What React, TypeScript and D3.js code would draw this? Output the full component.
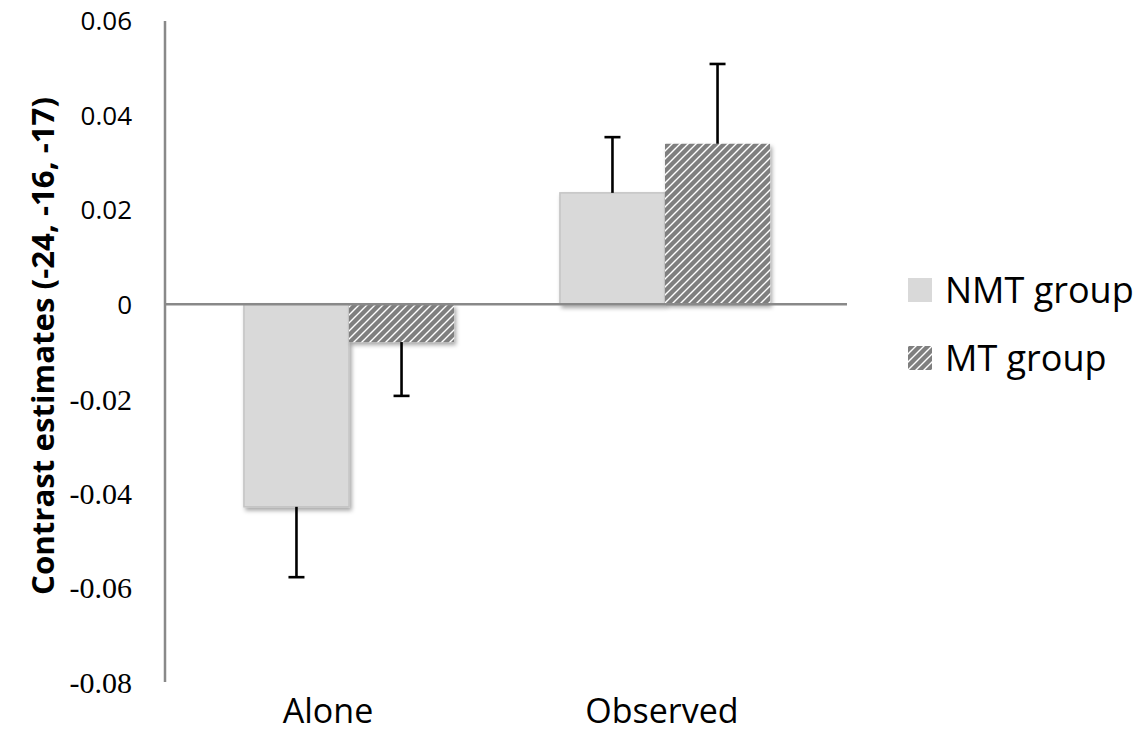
import React from "react";
import * as d3 from "d3";

const categories = ["Alone", "Observed"];
const seriesNames = ["NMT group", "MT group"];
const nmtValues = [-0.0429, 0.0236];
const mtValues = [-0.008, 0.034];
const nmtErrors = [0.0149, 0.0118];
const mtErrors = [0.0114, 0.0169];
const yTicks = [0.06, 0.04, 0.02, 0, -0.02, -0.04, -0.06, -0.08];

const W = 1147;
const H = 733;

export default function App() {
  const y = d3.scaleLinear().domain([-0.08, 0.06]).range([682, 21]);
  const x0 = d3.scaleBand<string>().domain(categories).range([191, 823]).padding(0);
  const groupW = x0.bandwidth() * 0.665;
  const x1 = d3.scaleBand<string>().domain(seriesNames).range([0, groupW]).padding(0);
  const labelX = d3.scalePoint<string>().domain(categories).range([328, 662]);

  const series = [
    { name: seriesNames[0], values: nmtValues, errors: nmtErrors },
    { name: seriesNames[1], values: mtValues, errors: mtErrors },
  ];

  const fmt = (v: number) => (v === 0 ? "0" : d3.format(".2f")(v).replace("\u2212", "-"));
  const fillFor = (i: number) => (i === 0 ? "#d9d9d9" : "url(#hatch)");
  const axisX = 165;
  const y0 = y(0);
  const serif = "'Liberation Serif', 'Times New Roman', 'DejaVu Serif', serif";
  const sans = "'Open Sans', 'Noto Sans', sans-serif";

  return (
    <svg width={W} height={H} style={{ display: "block", position: "absolute", left: 0, top: 0 }}>
      <defs>
        <pattern id="hatch" patternUnits="userSpaceOnUse" width="8" height="8">
          <rect width="8" height="8" fill="#7f7f7f" />
          <path d="M-2,2 l4,-4 M0,8 l8,-8 M6,10 l4,-4" stroke="#ffffff" strokeWidth="1.4" />
        </pattern>
        <filter id="shadow" x="-10%" y="-10%" width="130%" height="130%">
          <feDropShadow dx="2" dy="3" stdDeviation="2" floodColor="#000" floodOpacity="0.35" />
        </filter>
      </defs>
      <rect width={W} height={H} fill="#fff" />

      {series.map((s, si) =>
        categories.map((c, ci) => {
          const v = s.values[ci];
          const bx = (x0(c) as number) + (x0.bandwidth() - groupW) / 2 + (x1(s.name) as number);
          const top = Math.min(y(v), y0);
          const h = Math.abs(y(v) - y0);
          return (
            <rect
              key={s.name + c}
              x={bx}
              y={top}
              width={x1.bandwidth()}
              height={h}
              fill={fillFor(si)}
              stroke={si === 0 ? "#c4c4c4" : "none"}
              strokeWidth={1.5}
              filter="url(#shadow)"
            />
          );
        })
      )}

      <line x1={axisX} x2={847} y1={y0} y2={y0} stroke="#898989" strokeWidth={2.5} />
      <line x1={axisX} x2={axisX} y1={y(0.06)} y2={y(-0.08)} stroke="#898989" strokeWidth={2.5} />

      {series.map((s, si) =>
        categories.map((c, ci) => {
          const v = s.values[ci];
          const e = s.errors[ci];
          const bx = (x0(c) as number) + (x0.bandwidth() - groupW) / 2 + (x1(s.name) as number);
          const cx = bx + x1.bandwidth() / 2;
          const end = v < 0 ? v - e : v + e;
          return (
            <g key={"e" + s.name + c} stroke="#000" strokeWidth={2.6}>
              <line x1={cx} x2={cx} y1={y(v)} y2={y(end)} />
              <line x1={cx - 8} x2={cx + 8} y1={y(end)} y2={y(end)} />
            </g>
          );
        })
      )}

      {yTicks.map((t) => (
        <text
          key={t}
          x={132}
          y={y(t)}
          dy="0.36em"
          textAnchor="end"
          style={{ fontFamily: t < 0 ? serif : sans, fontSize: t < 0 ? 30 : 26 }}
          fill="#000"
        >
          {fmt(t)}
        </text>
      ))}

      {categories.map((c) => (
        <text
          key={c}
          x={labelX(c)}
          y={723}
          textAnchor="middle"
          style={{ fontFamily: sans, fontSize: 34 }}
          fill="#000"
        >
          {c}
        </text>
      ))}

      <text
        transform="translate(54,346) rotate(-90)"
        textAnchor="middle"
        style={{ fontFamily: sans, fontWeight: "bold", fontSize: 30 }}
        textLength={498}
        lengthAdjust="spacingAndGlyphs"
        fill="#000"
      >
        Contrast estimates (-24, -16, -17)
      </text>

      {seriesNames.map((n, i) => (
        <g key={n} transform={`translate(908,${278 + i * 68})`}>
          <rect width={24} height={24} fill={fillFor(i)} />
          <text x={37} y={25} style={{ fontFamily: sans, fontSize: 36 }} fill="#000">
            {n}
          </text>
        </g>
      ))}
    </svg>
  );
}
